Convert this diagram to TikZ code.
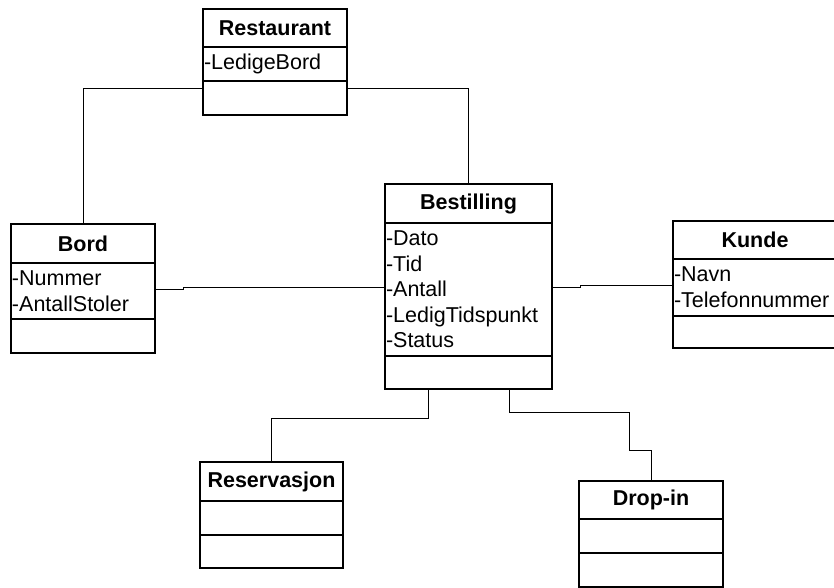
\documentclass[tikz,border=0pt]{standalone}
\usepackage{fontspec}
\setmainfont{Liberation Sans}
\usetikzlibrary{positioning}

\begin{document}
\begin{tikzpicture}[x=1pt,y=1pt,
  cls/.style={draw,line width=1.6pt,outer sep=0pt,inner sep=0pt,font=\bfseries},
  attr/.style={draw,line width=1.6pt,outer sep=0pt,inner xsep=1pt,inner ysep=0pt,align=left},
  conn/.style={line width=0.9pt}]
\fontsize{21.5}{25.6}\selectfont
\useasboundingbox (0,0) rectangle (834,588);
\clip (0,0) rectangle (834,588);

% classes
\node(rest) at (203,579)[cls,anchor=north west,minimum width=144pt,minimum height=38pt]{Restaurant};
\node(restattr)[attr,below=0pt of rest,text width=142pt,minimum height=34pt]{-LedigeBord};
\node(restop)[attr,below=0pt of restattr,minimum width=144pt,minimum height=34pt]{};

\node(bord) at (11,364)[cls,anchor=north west,minimum width=144pt,minimum height=39pt]{Bord};
\node(bordattr)[attr,below=0pt of bord,text width=142pt,minimum height=56pt]{-Nummer\\-AntallStoler};
\node(bordop)[attr,below=0pt of bordattr,minimum width=144pt,minimum height=34pt]{};

\node(best) at (385,404)[cls,anchor=north west,minimum width=167pt,minimum height=39pt]{Bestilling};
\node(bestattr)[attr,below=0pt of best,text width=165pt,minimum height=133pt]{-Dato\\-Tid\\-Antall\\-LedigTidspunkt\\-Status};
\node(bestop)[attr,below=0pt of bestattr,minimum width=167pt,minimum height=33pt]{};

\node(kunde) at (673,367)[cls,anchor=north west,minimum width=164pt,minimum height=38pt]{Kunde};
\node(kundeattr)[attr,below=0pt of kunde,text width=162pt,minimum height=57pt]{-Navn\\-Telefonnummer};
\node(kundeop)[attr,below=0pt of kundeattr,minimum width=164pt,minimum height=32pt]{};

\node(res) at (200,126)[cls,anchor=north west,minimum width=143pt,minimum height=39pt]{Reservasjon};
\node(resattr)[attr,below=0pt of res,minimum width=143pt,minimum height=34pt]{};
\node(resop)[attr,below=0pt of resattr,minimum width=143pt,minimum height=33pt]{};

\node(drop) at (579,107)[cls,anchor=north west,minimum width=144pt,minimum height=38pt]{Drop-in};
\node(dropattr)[attr,below=0pt of drop,minimum width=144pt,minimum height=34pt]{};
\node(dropop)[attr,below=0pt of dropattr,minimum width=144pt,minimum height=34pt]{};

% connectors
\draw[conn] ([yshift=-7pt]restop.north west) -| (bord.north);
\draw[conn] ([yshift=-7pt]restop.north east) -| (best.north);
\draw[conn] ([yshift=2pt]bordattr.east) -- ++(28,0) |- ([yshift=2.5pt]bestattr.west);
\draw[conn] ([yshift=2.5pt]bestattr.east) -- ++(28,0) |- ([yshift=2.5pt]kundeattr.west);
\draw[conn] ([xshift=-40.5pt]bestop.south) -- ++(0,-29) -| (res.north);
\draw[conn] ([xshift=40.5pt]bestop.south) -- ++(0,-23) -| ++(120,-38) -| (drop.north);

\end{tikzpicture}
\end{document}
